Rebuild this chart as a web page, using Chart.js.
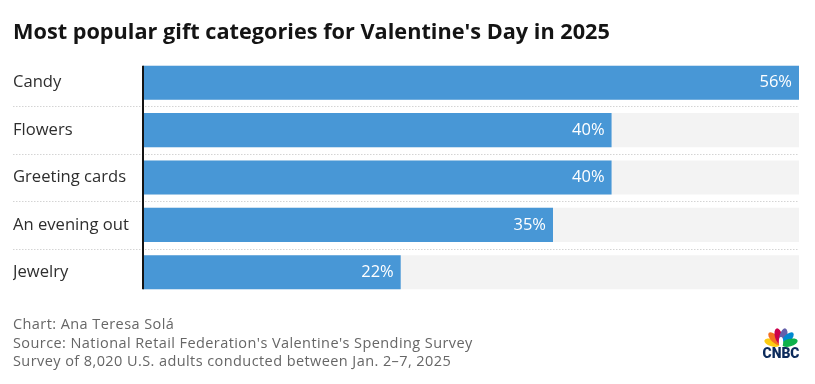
<!DOCTYPE html>
<html><head><meta charset="utf-8">
<script src="https://cdn.jsdelivr.net/npm/chart.js@4"></script>
<style>
html,body{margin:0;padding:0;background:#fff}
body{width:815px;height:384px;overflow:hidden;position:relative;font-family:"Open Sans",sans-serif}
#title{position:absolute;left:13px;top:16px;font-size:21.7px;font-weight:700;color:#141414;white-space:nowrap;letter-spacing:0px}
#foot{position:absolute;left:13px;top:315px;font-size:14.5px;color:#666;line-height:18.5px;white-space:nowrap;letter-spacing:0.42px}
#chart{position:absolute;left:0;top:0}
#logo{position:absolute;left:759px;top:323px}
</style>
</head><body>
<canvas id="chart" width="815" height="384"></canvas>
<div id="title">Most popular gift categories for Valentine's Day in 2025</div>
<div id="foot">Chart: Ana Teresa Solá<br>Source: National Retail Federation's Valentine's Spending Survey<br>Survey of 8,020 U.S. adults conducted between Jan. 2–7, 2025</div>
<svg id="logo" width="44" height="38" viewBox="0 0 44 38">
  <g transform="translate(22,22)">
    <ellipse cx="0" cy="-9" rx="3.8" ry="8.2" fill="#fccc12" transform="rotate(-75)"/>
    <ellipse cx="0" cy="-9" rx="3.8" ry="8.2" fill="#f37021" transform="rotate(-45)"/>
    <ellipse cx="0" cy="-9" rx="3.8" ry="8.2" fill="#cc004c" transform="rotate(-15)"/>
    <ellipse cx="0" cy="-9" rx="3.8" ry="8.2" fill="#6460aa" transform="rotate(15)"/>
    <ellipse cx="0" cy="-9" rx="3.8" ry="8.2" fill="#0089d0" transform="rotate(45)"/>
    <ellipse cx="0" cy="-9" rx="3.8" ry="8.2" fill="#0db14b" transform="rotate(75)"/>
    <ellipse cx="0" cy="-3" rx="2.2" ry="5" fill="#fff"/>
  </g>
  <text x="22" y="35" text-anchor="middle" font-family="Roboto, sans-serif" font-weight="900" font-size="15" fill="#0b2a5b" textLength="37" lengthAdjust="spacingAndGlyphs">CNBC</text>
</svg>
<script>
const categories = ["Candy", "Flowers", "Greeting cards", "An evening out", "Jewelry"];
const shares = [56, 40, 40, 35, 22];
const fullScale = [56, 56, 56, 56, 56];
const axisMax = 56;
const FONT = '"Open Sans", sans-serif';

const separatorPlugin = {
  id: 'separators',
  beforeDatasetsDraw(chart) {
    const ctx = chart.ctx, y = chart.scales.y, area = chart.chartArea;
    ctx.save();
    ctx.strokeStyle = '#d4d4d4';
    ctx.lineWidth = 1;
    ctx.setLineDash([1.5, 1.5]);
    for (let i = 0; i < categories.length - 1; i++) {
      const py = Math.round((y.getPixelForValue(i) + y.getPixelForValue(i + 1)) / 2) + 0.5;
      ctx.beginPath();
      ctx.moveTo(13, py);
      ctx.lineTo(area.right, py);
      ctx.stroke();
    }
    ctx.restore();
  }
};

const overlayPlugin = {
  id: 'overlay',
  afterDatasetsDraw(chart) {
    const ctx = chart.ctx;
    const meta = chart.getDatasetMeta(0);
    const els = meta.data;
    const first = els[0], last = els[els.length - 1];
    ctx.save();
    ctx.strokeStyle = '#141414';
    ctx.lineWidth = 2;
    ctx.beginPath();
    ctx.moveTo(chart.chartArea.left, first.y - first.height / 2);
    ctx.lineTo(chart.chartArea.left, last.y + last.height / 2);
    ctx.stroke();
    ctx.fillStyle = '#ffffff';
    ctx.font = '16.5px ' + FONT;
    ctx.textAlign = 'right';
    ctx.textBaseline = 'middle';
    els.forEach((el, i) => {
      ctx.fillText(shares[i] + '%', el.x - 7, el.y);
    });
    ctx.restore();
  }
};

new Chart(document.getElementById('chart'), {
  type: 'bar',
  data: {
    labels: categories,
    datasets: [
      { data: shares, backgroundColor: '#4897d6', grouped: false, barPercentage: 0.72, categoryPercentage: 1 },
      { data: fullScale, backgroundColor: '#f3f3f3', grouped: false, barPercentage: 0.72, categoryPercentage: 1 }
    ]
  },
  options: {
    indexAxis: 'y',
    responsive: false,
    animation: false,
    layout: { padding: { top: 59, bottom: 88, left: 13, right: 16 } },
    plugins: { legend: { display: false }, tooltip: { enabled: false } },
    scales: {
      x: { display: false, min: 0, max: axisMax },
      y: {
        grid: { display: false },
        border: { display: false },
        ticks: {
          crossAlign: 'far',
          color: '#2e2e2e',
          font: { family: FONT, size: 16.6 },
          padding: 0
        },
        afterFit(scale) { scale.width = 130; }
      }
    }
  },
  plugins: [separatorPlugin, overlayPlugin]
});
</script>
</body></html>
